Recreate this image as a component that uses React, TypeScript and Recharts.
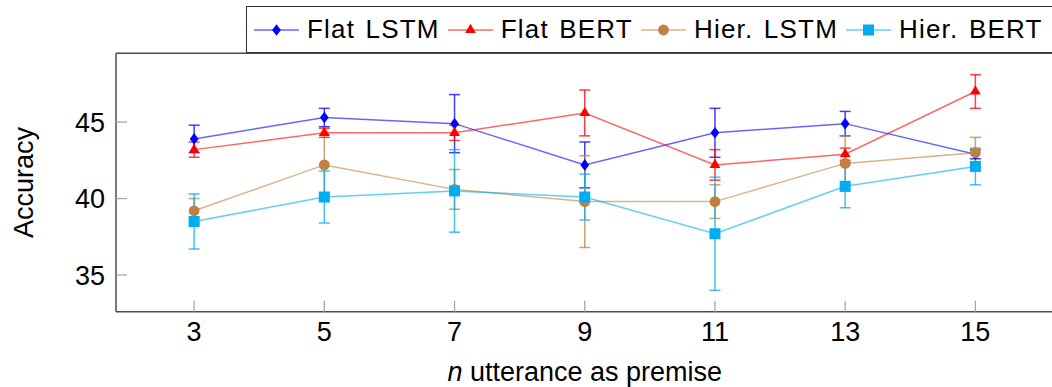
import { LineChart, Line, XAxis, YAxis, ErrorBar } from "recharts";

// n utterances used as premise
const nUtterances = [3, 5, 7, 9, 11, 13, 15];

const flatLstm = [43.9, 45.3, 44.9, 42.2, 44.3, 44.9, 42.9];
const flatLstmErr = [0.9, 0.6, 1.9, 1.5, 1.6, 0.8, 0.3];
const flatBert = [43.2, 44.3, 44.3, 45.6, 42.2, 42.9, 47.0];
const flatBertErr = [0.5, 0.3, 0.5, 1.5, 1.0, 0.4, 1.1];
const hierLstm = [39.2, 42.2, 40.6, 39.8, 39.8, 42.3, 43.0];
const hierLstmErr = [0.8, 2.0, 1.3, 3.0, 1.1, 1.8, 1.0];
const hierBert = [38.5, 40.1, 40.5, 40.1, 37.7, 40.8, 42.1];
const hierBertErr = [1.8, 1.7, 2.7, 1.5, 3.7, 1.4, 1.2];

const yTicks = [35, 40, 45];

const FONT = '"Liberation Sans", Arial, sans-serif';

type Shape = "diamond" | "triangle" | "circle" | "square";

const series: Array<{
  key: string;
  label: string;
  color: string;
  shape: Shape;
  values: number[];
  errors: number[];
}> = [
  { key: "flatLstm", label: "Flat LSTM", color: "#0000ff", shape: "diamond", values: flatLstm, errors: flatLstmErr },
  { key: "flatBert", label: "Flat BERT", color: "#ff0000", shape: "triangle", values: flatBert, errors: flatBertErr },
  { key: "hierLstm", label: "Hier. LSTM", color: "#bf8040", shape: "circle", values: hierLstm, errors: hierLstmErr },
  { key: "hierBert", label: "Hier. BERT", color: "#00aeef", shape: "square", values: hierBert, errors: hierBertErr },
];

const data = nUtterances.map((n, i) => {
  const row: Record<string, number> = { n };
  series.forEach((s) => {
    row[s.key] = s.values[i];
    row[s.key + "Err"] = s.errors[i];
  });
  return row;
});

function Marker({ shape, cx, cy, color }: { shape: Shape; cx: number; cy: number; color: string }) {
  if (cx == null || cy == null) return null;
  switch (shape) {
    case "diamond":
      return (
        <polygon
          points={`${cx},${cy - 5.8} ${cx + 4.4},${cy} ${cx},${cy + 5.8} ${cx - 4.4},${cy}`}
          fill={color}
        />
      );
    case "triangle":
      return (
        <polygon
          points={`${cx},${cy - 6.2} ${cx + 5.4},${cy + 3.1} ${cx - 5.4},${cy + 3.1}`}
          fill={color}
        />
      );
    case "circle":
      return <circle cx={cx} cy={cy} r={5.4} fill={color} />;
    default:
      return <rect x={cx - 5.5} y={cy - 5.5} width={11} height={11} fill={color} />;
  }
}

function XTitle({ viewBox }: any) {
  const cx = viewBox.x + viewBox.width / 2;
  return (
    <text x={cx} y={viewBox.y + viewBox.height - 6} textAnchor="middle" fontSize={27} fontFamily={FONT} fill="#000">
      <tspan fontStyle="italic">n</tspan> utterance as premise
    </text>
  );
}

function YTitle({ viewBox }: any) {
  const x = viewBox.x + 33;
  const y = viewBox.y + viewBox.height / 2;
  return (
    <text x={x} y={y} transform={`rotate(-90, ${x}, ${y})`} textAnchor="middle" fontSize={27} fontFamily={FONT} fill="#000">
      Accuracy
    </text>
  );
}

function ChartLegend() {
  return (
    <div
      style={{
        position: "absolute",
        left: 246,
        top: 6,
        width: 830,
        height: 47,
        boxSizing: "border-box",
        border: "1.5px solid #333",
        background: "#fff",
        display: "flex",
        alignItems: "center",
        paddingLeft: 7,
        fontFamily: FONT,
        fontSize: 26,
        letterSpacing: 1.2,
        wordSpacing: 2,
        color: "#000",
        whiteSpace: "pre",
      }}
    >
      {series.map((s) => (
        <div key={s.key} style={{ display: "flex", alignItems: "center", marginRight: 8 }}>
          <svg width={45} height={20} style={{ display: "block" }}>
            <line x1={0} y1={10} x2={45} y2={10} stroke={s.color} strokeOpacity={0.6} strokeWidth={1.5} />
            <Marker shape={s.shape} cx={22.5} cy={10} color={s.color} />
          </svg>
          <span style={{ marginLeft: 8 }}>{s.label}</span>
        </div>
      ))}
    </div>
  );
}

export default function App() {
  const tickStyle = { fontSize: 27, fill: "#000", fontFamily: FONT };
  const axisLine = { stroke: "#4d4d4d", strokeWidth: 1.5 };
  const tickLine = { stroke: "#a6a6a6", strokeWidth: 1.3 };
  return (
    <div style={{ position: "absolute", left: 0, top: 0, width: 1052, height: 387, overflow: "hidden", background: "#fff" }}>
      <LineChart
        width={1060}
        height={387}
        data={data}
        margin={{ top: 0, right: 0, bottom: 0, left: 0 }}
        style={{ fontFamily: FONT }}
      >
        <XAxis
          dataKey="n"
          type="number"
          domain={[1.8, 16.2]}
          ticks={nUtterances}
          allowDataOverflow
          height={75.3}
          tickSize={-11}
          tickMargin={21}
          tick={tickStyle}
          axisLine={axisLine}
          tickLine={tickLine}
          label={<XTitle />}
        />
        <XAxis
          xAxisId="top"
          orientation="top"
          dataKey="n"
          type="number"
          domain={[1.8, 16.2]}
          ticks={nUtterances}
          allowDataOverflow
          height={53.3}
          tickSize={-11}
          tick={false}
          axisLine={axisLine}
          tickLine={tickLine}
        />
        <YAxis
          type="number"
          domain={[32.6, 49.5]}
          ticks={yTicks}
          allowDataOverflow
          width={116}
          tickSize={-11}
          tickMargin={22}
          tick={tickStyle}
          axisLine={axisLine}
          tickLine={tickLine}
          label={<YTitle />}
        />
        <YAxis
          yAxisId="right"
          orientation="right"
          type="number"
          domain={[32.6, 49.5]}
          ticks={yTicks}
          allowDataOverflow
          width={6.5}
          tickSize={-11}
          tick={false}
          axisLine={axisLine}
          tickLine={tickLine}
        />
        {series.map((s) => (
          <Line
            key={s.key}
            dataKey={s.key}
            name={s.label}
            type="linear"
            stroke={s.color}
            strokeOpacity={0.6}
            strokeWidth={1.5}
            isAnimationActive={false}
            dot={(p: any) => <Marker key={`${s.key}-${p.index}`} shape={s.shape} cx={p.cx} cy={p.cy} color={s.color} />}
            activeDot={false}
          >
            <ErrorBar
              dataKey={s.key + "Err"}
              direction="y"
              width={5.5}
              stroke={s.color}
              strokeOpacity={0.75}
              strokeWidth={1.5}
              isAnimationActive={false}
            />
          </Line>
        ))}
      </LineChart>
      <ChartLegend />
    </div>
  );
}
